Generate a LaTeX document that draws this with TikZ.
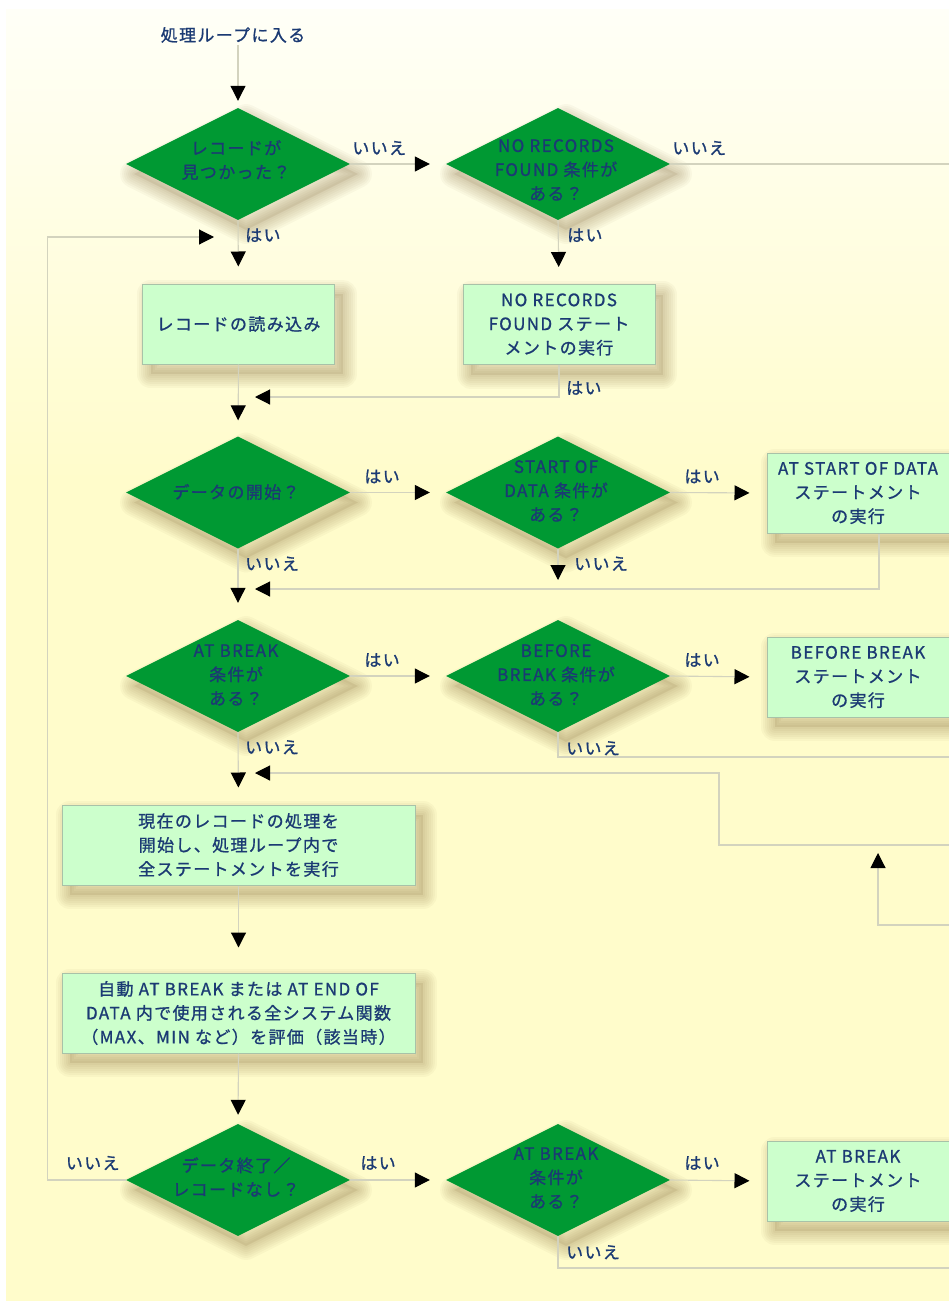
\documentclass[tikz,border=0pt]{standalone}
\usepackage{fontspec}
\newfontfamily\jp{Noto Sans CJK JP}[LetterSpace=8,FakeBold=1]
\usetikzlibrary{arrows.meta,calc,positioning,shapes.geometric,shadows}
\definecolor{ink}{HTML}{1B3A73}
\definecolor{dgreen}{HTML}{009933}
\definecolor{pgreen}{HTML}{CCFFCC}
\definecolor{boxline}{HTML}{A8C2A8}
\definecolor{wirec}{HTML}{D3D3BE}
\definecolor{paper}{HTML}{FFFCCB}
\definecolor{paperhi}{HTML}{FFFFF7}
\definecolor{shadowc}{HTML}{6E501E}
\tikzset{link/.style={draw=wirec, line width=1.1pt, -{Triangle[length=15pt,width=15pt,color=black]}},
  txt/.style={text=ink, font=\jp\fontsize{17}{24}\selectfont, align=center, inner sep=2pt},
  soft/.style={general shadow={shadow xshift=8pt, shadow yshift=-10pt, draw=shadowc, draw opacity=.04, fill=none, line width=#1, line join=round}},
  shd/.style={general shadow={shadow xshift=8pt, shadow yshift=-10pt, draw=none, fill=shadowc, fill opacity=.1},
    soft=28pt, soft=24pt, soft=20pt, soft=16pt, soft=12pt, soft=8pt, soft=4pt},
  decision/.style={diamond, fill=dgreen, minimum width=224pt, minimum height=112pt, inner sep=0pt, shd},
  action/.style={txt, rectangle, fill=pgreen, draw=boxline, line width=1pt, minimum height=80pt, shd}}

\begin{document}
\begin{tikzpicture}[x=1pt, y=-1pt]
  \useasboundingbox (0,0) rectangle (949,1303);
  \clip (0,0) rectangle (949,1303);
  % paper
  \fill[white] (0,0) rectangle (949,1303);
  \shade[top color=paperhi, bottom color=paper] (6,10) rectangle (949,480);
  \fill[paper] (6,480) rectangle (949,1301);

  \node[txt] (start) at (233,35) {処理ループに入る};
  % first row
  \node[decision] (d1) at (238,164) {};
  \node[txt] (d1t) at (236,160) {レコードが\\見つかった？};
  \node[decision] (d2) at (558,164) {};
  \node[txt] (d2t) at (556,170) {NO RECORDS\\FOUND 条件が\\ある？};
  \node[action, minimum width=192pt] (readbox) at (238.5,324) {レコードの読み込み};
  \node[action, minimum width=192pt] (nrbox) at (559,324.5) {NO RECORDS\\FOUND ステート\\メントの実行};
  % start of data
  \node[decision] (d3) at (238,492.5) {};
  \node[txt] (d3t) at (236,492) {データの開始？};
  \node[decision] (d4) at (558,492.5) {};
  \node[txt] (d4t) at (556,491) {START OF\\DATA 条件が\\ある？};
  \node[action, minimum width=182pt] (sobox) at (858,493) {AT START OF DATA\\ステートメント\\の実行};
  % before break
  \node[decision] (d5) at (238,676) {};
  \node[txt] (d5t) at (236,675) {AT BREAK\\条件が\\ある？};
  \node[decision] (d6) at (558,676) {};
  \node[txt] (d6t) at (556,675) {BEFORE\\BREAK 条件が\\ある？};
  \node[action, minimum width=182pt] (bbbox) at (858,677) {BEFORE BREAK\\ステートメント\\の実行};
  % main body
  \node[action, minimum width=353pt] (curbox) at (238.5,845) {現在のレコードの処理を\\開始し、処理ループ内で\\全ステートメントを実行};
  \node[action, minimum width=353pt] (evalbox) at (238.5,1013) {自動 AT BREAK または AT END OF\\DATA 内で使用される全システム関数\\（MAX、MIN など）を評価（該当時）};
  % end of data
  \node[decision] (d7) at (238,1180) {};
  \node[txt] (d7t) at (236,1177) {データ終了／\\レコードなし？};
  \node[decision] (d8) at (558,1180) {};
  \node[txt] (d8t) at (556,1178) {AT BREAK\\条件が\\ある？};
  \node[action, minimum width=182pt] (abbox) at (858,1181) {AT BREAK\\ステートメント\\の実行};

  % joins and loose ends
  \coordinate (j0) at (238,237);
  \coordinate (j1) at (238,397);
  \coordinate (j2) at (238,589);
  \coordinate (j3) at (238,773);
  \coordinate (e1) at (990,164);
  \coordinate (e2) at (990,757);
  \coordinate (e3) at (990,845);
  \coordinate (e4) at (990,925);
  \coordinate (e5) at (990,1268);

  \draw[link, shorten >=7pt] (start.south -| d1.north) -- (d1.north);
  \draw[link, shorten >=16pt] (d1.east) -- (d2.west);
  \draw[link, shorten >=17pt] (d1.south) -- (readbox.north);
  \draw[link, shorten >=17pt] (d2.south) -- (nrbox.north);
  \draw[link, -] (d2.east) -- (e1);
  \draw[link, shorten >=16pt] (readbox.south) -- (d3.north);
  \draw[link, shorten >=17pt] (nrbox.south) |- (j1);
  \draw[link, shorten >=16pt] (d3.east) -- (d4.west);
  \draw[link, shorten >=17pt] (d4.east) -- (sobox.west);
  \draw[link, shorten >=9pt] (d4.south) -- (d4.south |- j2);
  \draw[link, shorten >=17pt] ([xshift=21pt]sobox.south) |- (j2);
  \draw[link, shorten >=17pt] (d3.south) -- (d5.north);
  \draw[link, shorten >=16pt] (d5.east) -- (d6.west);
  \draw[link, shorten >=17pt] (d6.east) -- (bbbox.west);
  \draw[link, -] (d6.south) |- (e2);
  \draw[link, shorten >=17pt] (d5.south) -- (curbox.north);
  \draw[link, shorten >=17pt] (e3) -- ++(-271,0) |- (j3);
  \draw[link, shorten >=8pt] (e4) -- ++(-112,0) -- ++(0,-80);
  \draw[link, shorten >=25pt] (curbox.south) -- (evalbox.north);
  \draw[link, shorten >=9pt] (evalbox.south) -- (d7.north);
  \draw[link, shorten >=16pt] (d7.east) -- (d8.west);
  \draw[link, shorten >=17pt] (d8.east) -- (abbox.west);
  \draw[link, -] (d8.south) |- (e5);
  \draw[link, shorten >=24pt] (d7.west) -- ++(-78,0) |- (j0);

  % yes / no
  \node[txt, anchor=west] (n1) at ($(d1.east)+(0,-16)$) {いいえ};
  \node[txt, anchor=west] (n2) at ($(d2.east)+(0,-16)$) {いいえ};
  \node[txt, anchor=west] (y1) at ($(d1.south)+(5,15)$) {はい};
  \node[txt, anchor=west] (y2) at ($(d2.south)+(7,15)$) {はい};
  \node[txt, anchor=west] (y3) at ($(nrbox.south)+(5,23)$) {はい};
  \node[txt, anchor=west] (y4) at ($(d3.east)+(12,-16)$) {はい};
  \node[txt, anchor=west] (n3) at ($(d3.south)+(5,15)$) {いいえ};
  \node[txt, anchor=west] (y5) at ($(d4.east)+(12,-16)$) {はい};
  \node[txt, anchor=west] (n4) at ($(d4.south)+(14,15)$) {いいえ};
  \node[txt, anchor=west] (y6) at ($(d5.east)+(12,-16)$) {はい};
  \node[txt, anchor=west] (n5) at ($(d5.south)+(5,15)$) {いいえ};
  \node[txt, anchor=west] (y7) at ($(d6.east)+(12,-16)$) {はい};
  \node[txt, anchor=west] (n6) at ($(d6.south)+(6,16)$) {いいえ};
  \node[txt, anchor=east] (n7) at ($(d7.west)+(-4,-17)$) {いいえ};
  \node[txt, anchor=west] (y8) at ($(d7.east)+(8,-17)$) {はい};
  \node[txt, anchor=west] (y9) at ($(d8.east)+(12,-17)$) {はい};
  \node[txt, anchor=west] (n8) at ($(d8.south)+(6,16)$) {いいえ};
\end{tikzpicture}
\end{document}
